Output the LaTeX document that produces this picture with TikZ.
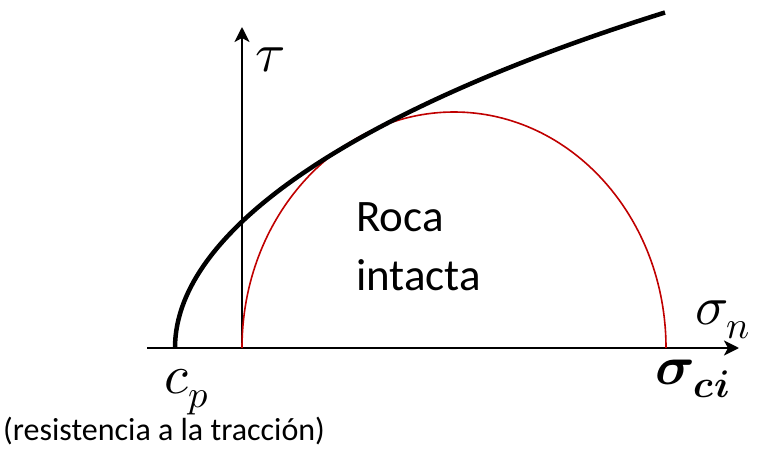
\documentclass[tikz,border=0pt]{standalone}
\usepackage{amsmath, amssymb}
\usepackage{fontspec}
\usepackage{unicode-math}
\setmainfont{Carlito}
\setmathfont{Latin Modern Math}
\usetikzlibrary{arrows.meta}
\definecolor{circred}{RGB}{192,0,0}

\begin{document}
\begin{tikzpicture}[x=1pt, y=1pt,
    axis/.style={line width=2.4pt, -{Stealth[length=15pt, width=15pt, inset=4pt]}},
    envelope/.style={line width=4.5pt},
    circ/.style={line width=1.6pt, draw=circred},
    lbl/.style={inner sep=0, font=\fontsize{45}{54}\selectfont},
    note/.style={inner sep=0, font=\fontsize{32}{38}\selectfont},
    mathlbl/.style={inner sep=0, font=\fontsize{55}{66}\selectfont}]
    \useasboundingbox (0,0) rectangle (763,448);
    \coordinate (xl) at (147,100);
    \coordinate (xr) at (739,100);
    \coordinate (o) at (242,100);
    \coordinate (yt) at (242,421);
    \coordinate (cp0) at (175,100);
    \coordinate (top) at (665,435.5);
    % axes
    \draw[axis] (xl) -- (xr);
    \draw[axis] (o) -- (yt);
    % Mohr circle
    \draw[circ] (o) arc[start angle=180, end angle=0, x radius=212, y radius=236];
    % envelope
    \draw[envelope] (cp0) .. controls (175,222) and (368,342.5) .. (top);
    \node[mathlbl] (tau) at (270,388) {$\tau$};
    \node[mathlbl] (sign) at (723,128) {$\sigma_n$};
    \node[mathlbl] (sigci) at (693,69) {$\symbfit{\sigma}_{\symbfit{ci}}$};
    \node[mathlbl] (cp) at (187,56) {$c_p$};
    \node[note, anchor=base west] (res) at (3,8) {(resistencia a la tracción)};
    \node[lbl, anchor=base west] (roca) at (356,217) {Roca};
    \node[lbl, anchor=base west] (intacta) at (356,158) {intacta};
\end{tikzpicture}
\end{document}
